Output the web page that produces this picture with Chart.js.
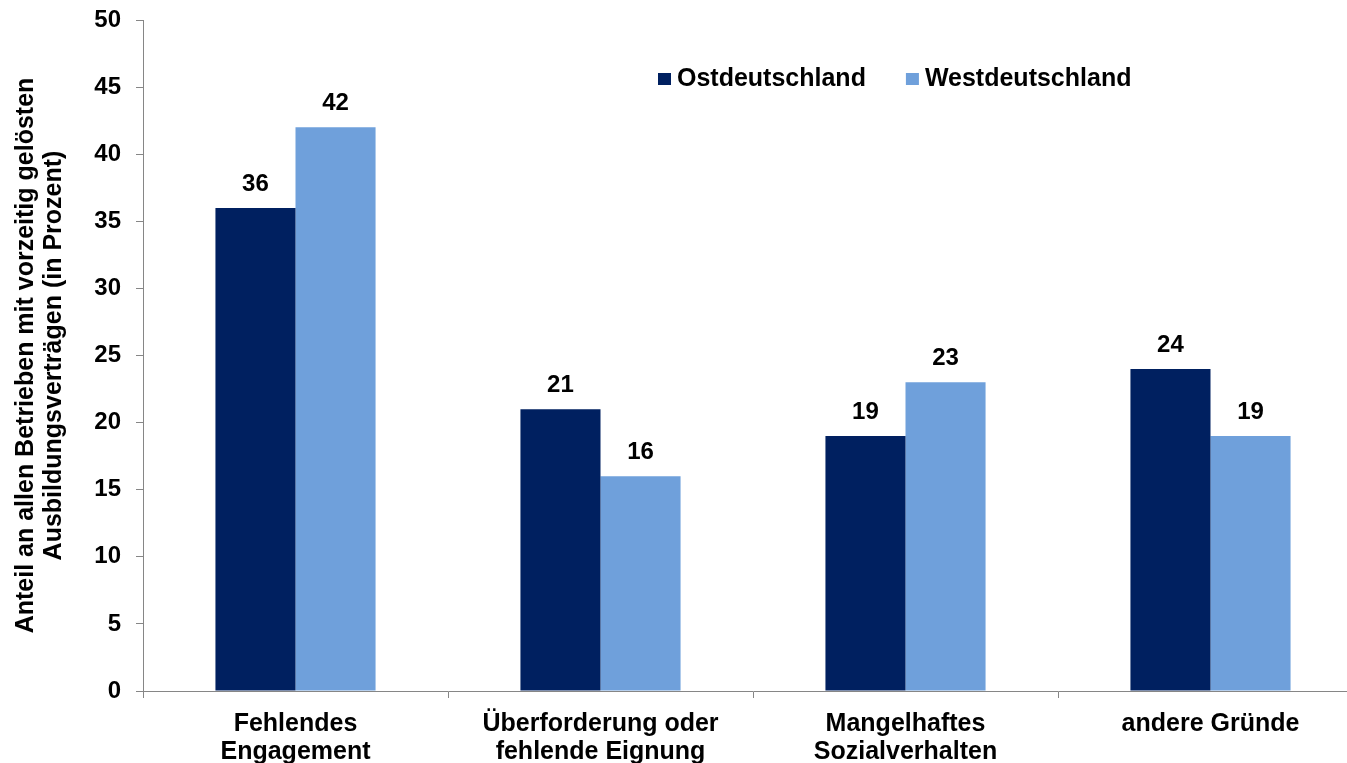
<!DOCTYPE html>
<html>
<head>
<meta charset="utf-8">
<script src="https://cdn.jsdelivr.net/npm/chart.js@4.4.1/dist/chart.umd.min.js"></script>
<style>
  html, body { margin: 0; padding: 0; overflow: hidden; background: #fff; }
  #wrap { width: 1365px; height: 763px; }
</style>
</head>
<body>
<div id="wrap"><canvas id="reasonsChart"></canvas></div>
<script>
// categories and values
const categories = [
  ['Fehlendes', 'Engagement'],
  ['Überforderung oder', 'fehlende Eignung'],
  ['Mangelhaftes', 'Sozialverhalten'],
  'andere Gründe'
];
const seriesNames = ['Ostdeutschland', 'Westdeutschland'];
const ostValues = [36, 21, 19, 24];
const westValues = [42, 16, 23, 19];
const yTitle = ['Anteil an allen Betrieben mit vorzeitig gelösten', 'Ausbildungsverträgen (in Prozent)'];

const FONT = "'Liberation Sans', Arial, sans-serif";
const AXIS_GREY = '#868686';

// numbers above the bars
const valueLabels = {
  id: 'valueLabels',
  afterDatasetsDraw(chart) {
    const ctx = chart.ctx;
    ctx.save();
    ctx.font = 'bold 24px ' + FONT;
    ctx.fillStyle = '#000';
    ctx.textAlign = 'center';
    ctx.textBaseline = 'alphabetic';
    chart.data.datasets.forEach((ds, i) => {
      chart.getDatasetMeta(i).data.forEach((bar, j) => {
        ctx.fillText(ds.data[j], bar.x, bar.y - 17);
      });
    });
    ctx.restore();
  }
};

// legend inside the plot, top right
const insideLegend = {
  id: 'insideLegend',
  afterDraw(chart) {
    const ctx = chart.ctx;
    ctx.save();
    ctx.font = 'bold 25px ' + FONT;
    ctx.textBaseline = 'alphabetic';
    let x = 658;
    chart.data.datasets.forEach(ds => {
      ctx.fillStyle = ds.backgroundColor;
      ctx.fillRect(x, 73, 13, 12);
      ctx.fillStyle = '#000';
      ctx.fillText(ds.label, x + 19, 86);
      x += 19 + ctx.measureText(ds.label).width + 40;
    });
    ctx.restore();
  }
};

const ctx = document.getElementById('reasonsChart').getContext('2d');
const reasonsChart = new Chart(ctx, {
  type: 'bar',
  data: {
    labels: categories,
    datasets: [
      {
        label: seriesNames[0],
        data: ostValues,
        backgroundColor: '#002060',
        categoryPercentage: 0.525,
        barPercentage: 1
      },
      {
        label: seriesNames[1],
        data: westValues,
        backgroundColor: '#6FA0DB',
        categoryPercentage: 0.525,
        barPercentage: 1
      }
    ]
  },
  options: {
    responsive: true,
    maintainAspectRatio: false,
    animation: false,
    layout: { padding: { top: 20, right: 2, bottom: 0, left: 0 } },
    scales: {
      x: {
        grid: {
          offset: true,
          drawOnChartArea: false,
          tickLength: 7,
          tickColor: AXIS_GREY
        },
        border: { color: AXIS_GREY, width: 1 },
        ticks: {
          color: '#000',
          padding: 12,
          maxRotation: 0,
          autoSkip: false,
          font: { family: FONT, size: 25, weight: 'bold', lineHeight: 28 / 25 }
        },
        afterFit(scale) { scale.height = 72; }
      },
      y: {
        min: 0,
        max: 50,
        ticks: {
          stepSize: 5,
          color: '#000',
          padding: 15,
          font: { family: FONT, size: 24, weight: 'bold', lineHeight: 0.4 }
        },
        grid: {
          drawOnChartArea: false,
          tickLength: 7,
          tickColor: AXIS_GREY
        },
        border: { color: AXIS_GREY, width: 1 },
        title: {
          display: true,
          text: yTitle,
          color: '#000',
          padding: { top: 12, bottom: 0 },
          font: { family: FONT, size: 25, weight: 'bold', lineHeight: 28 / 25 }
        },
        afterFit(scale) { scale.width = 143; }
      }
    },
    plugins: {
      legend: { display: false },
      tooltip: { enabled: false }
    }
  },
  plugins: [valueLabels, insideLegend]
});
</script>
</body>
</html>
